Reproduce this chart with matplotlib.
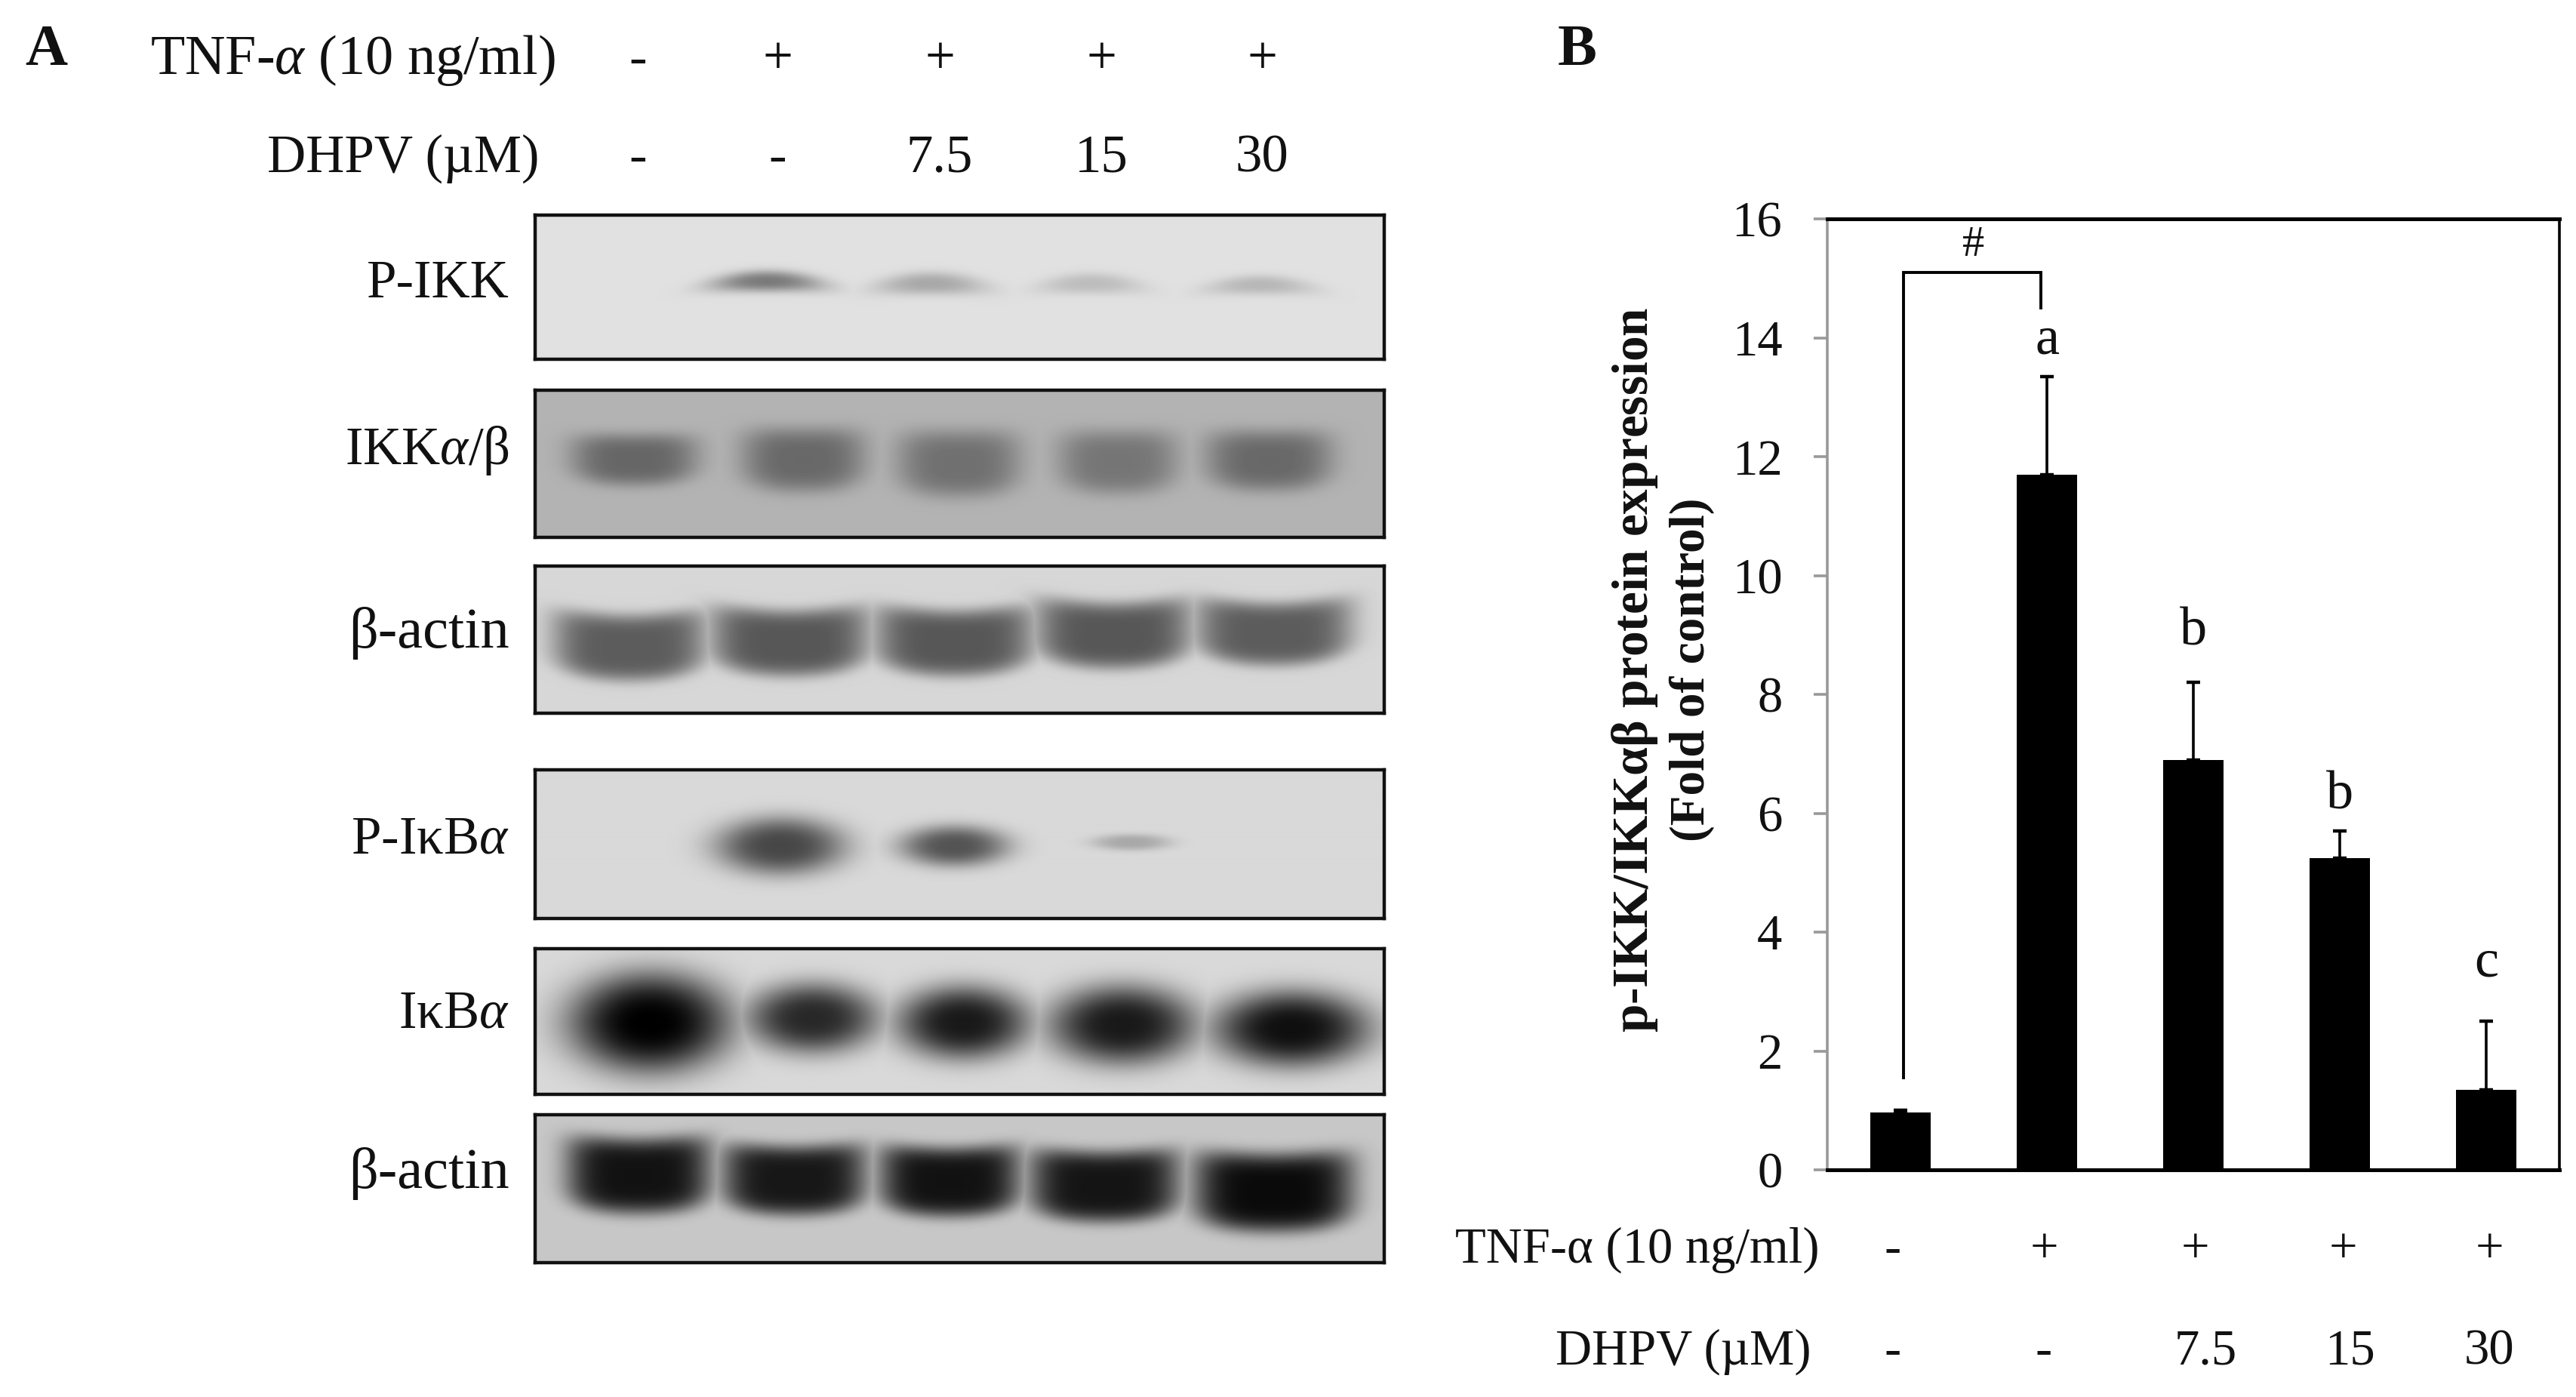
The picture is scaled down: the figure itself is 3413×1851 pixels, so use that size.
import numpy as np
import matplotlib
matplotlib.use("Agg")
import matplotlib.pyplot as plt

# ---- data ----
tnf_signs = ["-", "+", "+", "+", "+"]
dhpv_doses = ["-", "-", "7.5", "15", "30"]
bar_values = [0.97, 11.7, 6.9, 5.25, 1.35]
bar_upper = [1.0, 13.35, 8.2, 5.7, 2.5]
significance = ["", "a", "b", "b", "c"]
y_ticks = [0, 2, 4, 6, 8, 10, 12, 14, 16]
blot_names = ["P-IKK", "IKK$\\alpha$/\u03b2", "\u03b2-actin", "P-I\u03baB$\\alpha$", "I\u03baB$\\alpha$", "\u03b2-actin"]
# band grey level for each lane (None = no band)
grey_p_ikk = [None, 0.48, 0.66, 0.74, 0.72]
grey_ikk = [0.40, 0.41, 0.44, 0.46, 0.41]
grey_actin1 = [0.36, 0.34, 0.34, 0.34, 0.36]
grey_p_ikb = [None, 0.28, 0.33, 0.66, None]
grey_ikb = [0.0, 0.16, 0.10, 0.10, 0.06]
grey_actin2 = [0.07, 0.09, 0.07, 0.08, 0.04]

W, H = 3413, 1851
plt.rcParams["font.family"] = ["Liberation Serif", "DejaVu Serif"]
plt.rcParams["mathtext.fontset"] = "custom"
plt.rcParams["mathtext.rm"] = "Liberation Serif"
plt.rcParams["mathtext.it"] = "Liberation Serif:italic"
plt.rcParams["mathtext.bf"] = "Liberation Serif:bold"
fig = plt.figure(figsize=(W / 100, H / 100), dpi=100, facecolor="white")
FS_A = 51
FS_B = 48


def T(x, y, s, ha="center", va="center", size=FS_A, **kw):
    return fig.text(x / W, 1 - y / H, s, ha=ha, va=va, fontsize=size, color="#111111", **kw)


def axes_px(l, t, r, b, **kw):
    return fig.add_axes([l / W, 1 - b / H, (r - l) / W, (b - t) / H], **kw)


# ---- panel A layout: (top, bottom, background, greys, centres, half widths, centre y, half height, curve, sharpness, squareness)
L_PANEL, R_PANEL = 709, 1834
panels = [
    (285, 476, 0.88, grey_p_ikk, [840, 1016, 1233, 1445, 1669], [1, 74, 72, 68, 70],
     [374, 372, 375, 375, 377], [1, 14, 15, 14, 13], 5, 2.6, 2),
    (517, 712, 0.70, grey_ikk, [840, 1064, 1270, 1481, 1681], [84, 82, 82, 80, 84],
     [609, 609, 614, 612, 610], [34, 42, 44, 42, 40], -5, 4, 3),
    (750, 945, 0.84, grey_actin1, [834, 1046, 1264, 1475, 1687], [102, 106, 106, 104, 104],
     [858, 852, 852, 842, 840], [44, 44, 44, 44, 42], -14, 5, 4),
    (1020, 1217, 0.85, grey_p_ikb, [845, 1034, 1264, 1499, 1700], [1, 86, 72, 52, 1],
     [1110, 1121, 1121, 1116, 1110], [1, 38, 27, 11, 1], 0, 3, 2),
    (1257, 1450, 0.85, grey_ikb, [861, 1076, 1276, 1487, 1711], [108, 88, 88, 98, 104],
     [1355, 1349, 1355, 1358, 1363], [66, 46, 48, 52, 50], 0, 3, 2),
    (1477, 1673, 0.78, grey_actin2, [846, 1052, 1258, 1463, 1687], [96, 96, 94, 100, 106],
     [1558, 1564, 1566, 1572, 1580], [50, 46, 46, 47, 52], -10, 5, 4),
]
label_y = [377, 597, 839, 1113, 1344, 1555]
label_size = [FS_A, FS_A, 55, FS_A, FS_A, 55]

for (top, bot, bg, greys, cx, hw, cy, hh, curve, sharp, square), name, ly, ls in zip(panels, blot_names, label_y, label_size):
    ax = axes_px(L_PANEL, top, R_PANEL, bot)
    yy, xx = np.mgrid[top:bot, L_PANEL:R_PANEL]
    img = np.full(xx.shape, bg, dtype=float)
    for g, c, w, y0, h in zip(greys, cx, hw, cy, hh):
        if g is None:
            continue
        u = np.abs((xx - c) / w)
        v = np.abs((yy - (y0 + curve * ((xx - c) / w) ** 2)) / h)
        m = np.exp(-(u ** square + v ** square) ** (sharp / square))
        img = np.minimum(img, bg - (bg - g) * m)
    ax.imshow(img, cmap="gray", vmin=0, vmax=1, aspect="auto", interpolation="bilinear")
    ax.set_xticks([])
    ax.set_yticks([])
    for s in ax.spines.values():
        s.set_linewidth(3.2)
        s.set_color("#111111")
    T(675, ly, name, ha="right", size=ls)

sign_x_a = [845, 1030, 1245, 1459, 1672]
T(736, 80, "TNF-$\\alpha$ (10 ng/ml)", ha="right", size=53.5)
T(714, 210, "DHPV (\u00b5M)", ha="right")
for x, s, d in zip(sign_x_a, tnf_signs, dhpv_doses):
    T(x, 80, s)
    T(x, 210, d)
T(61, 68, "A", size=56, fontweight="bold")
T(2090, 68, "B", size=56, fontweight="bold")

# ---- panel B ----
ax = axes_px(2421, 290, 3391, 1550)
x = np.arange(len(bar_values))
vals = np.array(bar_values)
ax.bar(x, vals, width=0.41, color="black", zorder=2)
ax.errorbar(x, vals, yerr=[np.zeros_like(vals), np.array(bar_upper) - vals], fmt="none",
            ecolor="black", elinewidth=2.6, capsize=6.5, capthick=3.2, zorder=3)
ax.set_xlim(-0.5, 4.5)
ax.set_ylim(0, 16)
ax.set_xticks([])
ax.set_yticks(y_ticks)
ax.tick_params(axis="y", length=13, width=2.6, color="#999999", labelsize=FS_B, pad=30, labelcolor="#111111")
ax.spines["left"].set_color("#999999")
ax.spines["left"].set_linewidth(2.6)
ax.spines["top"].set_linewidth(3.6)
ax.spines["bottom"].set_linewidth(3.6)
ax.spines["right"].set_linewidth(2.6)
ax.plot([0.02, 0.02, 0.96, 0.96], [1.55, 15.1, 15.1, 14.5], color="black", lw=2.8, zorder=4,
        solid_joinstyle="miter")
ax.text(0.5, 15.55, "#", ha="center", va="center", fontsize=42, color="#111111")
letter_gap = [0, 0.6, 0.85, 0.6, 0.98]
for xi, top_val, s, gap in zip(x, bar_upper, significance, letter_gap):
    if s:
        ax.text(xi, top_val + gap, s, ha="center", va="center", fontsize=52, color="#111111")

T(2166, 887, "p-IKK/IKK$\\mathbf{\\alpha}$\u03b2 protein expression", rotation=90, size=48.5, fontweight="bold")
T(2242, 887, "(Fold of control)", rotation=90, size=47, fontweight="bold")

sign_x_b = [2508, 2708, 2908, 3104, 3298]
dose_x_b = [2508, 2708, 2922, 3113, 3298]
T(2410, 1656, "TNF-\u03b1 (10 ng/ml)", ha="right", size=FS_B)
T(2399, 1791, "DHPV (\u00b5M)", ha="right", size=FS_B)
for sx, dx, s, d in zip(sign_x_b, dose_x_b, tnf_signs, dhpv_doses):
    T(sx, 1656, s, size=FS_B)
    T(dx, 1791, d, size=FS_B)

fig.savefig("out.png", dpi=100, facecolor="white")
